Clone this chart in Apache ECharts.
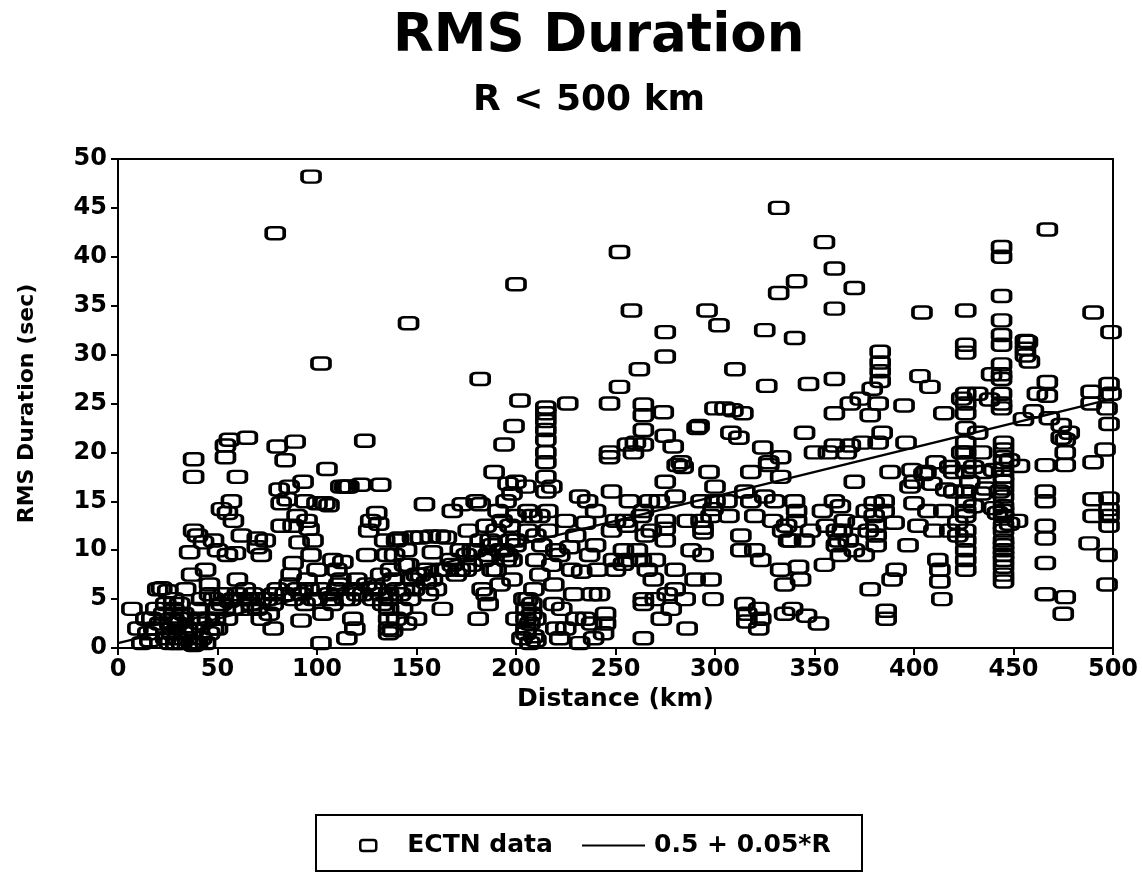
<!DOCTYPE html>
<html>
<head>
<meta charset="utf-8">
<script src="https://cdn.jsdelivr.net/npm/echarts@6/dist/echarts.min.js"></script>
<style>html,body{margin:0;padding:0;background:#fff}#c{width:1142px;height:877px}</style>
</head>
<body>
<div id="c"></div>
<script>
// ---- data: [distance km, RMS duration sec], grouped by distance band ----
const band0to50 = [[7,4.0],[10,2],[12,0.5],[14,3],[15,1.5],[16,0.8],[17,3.0],[18,2],[19,4],[20,6.0],[21,2.5],[22,6.1],[23,3.5],[24,1],[24,4.5],[25,5.8],[26,0.5],[26,2.5],[27,2],[27,1.5],[28,3],[28,4],[28,5],[29,0.5],[30,1],[30,2.5],[31,4.5],[31,3],[32,0.5],[33,3.5],[33,1.5],[34,6],[35,1],[35,2],[36,9.8],[36,3],[37,7.5],[37,0.5],[38,17.5],[38,19.3],[38,12],[38,0.3],[38,1.8],[39,0.6],[40,11.5],[40,0.5],[40,4],[41,3],[42,1],[42,2.5],[42,5],[43,10.8],[44,8],[44,0.5],[45,3],[46,5.5],[46,6.5],[46,1.5],[48,11],[48,2],[48,5],[49,3],[50,4],[50,2],[50,10]];
const band50to100 = [[52,14.2],[52,4.5],[53,5.5],[54,19.5],[54,20.7],[55,13.8],[55,9.5],[55,3],[56,21.3],[56,4.8],[57,15],[58,13],[58,5],[58,4],[59,9.7],[60,17.5],[60,7],[60,5.5],[62,11.5],[62,5],[63,4],[64,6],[65,21.5],[65,5],[66,5],[67,4.5],[68,5.5],[70,11.2],[70,10.3],[70,4],[72,9.5],[72,3],[72,5],[74,11],[75,5],[76,3.5],[78,5.5],[78,2],[78,4.5],[80,20.6],[80,6],[81,16.2],[82,12.5],[82,14.8],[84,19.2],[84,5.5],[85,15.2],[86,16.5],[86,6.5],[87,7.5],[88,12.5],[88,8.7],[88,5],[89,21.1],[90,13.5],[90,6],[91,10.8],[92,2.8],[92,5.5],[93,17],[94,15],[94,4.5],[95,7],[95,13],[96,12.2],[96,6],[97,9.5],[98,11],[98,5],[100,8],[100,14.8],[100,5]];
const band100to150 = [[102,0.5],[102,6],[103,3.5],[104,14.8],[105,18.3],[106,14.6],[106,5.5],[107,5],[108,9],[108,4.5],[110,8],[110,6],[111,6.5],[112,16.5],[112,7],[113,8.8],[114,16.5],[114,5],[115,16.5],[115,1],[116,16.5],[117,5],[118,6],[118,3],[119,2],[120,7],[120,5.5],[122,16.7],[123,5.5],[124,21.2],[125,9.5],[125,6.5],[126,12],[127,13],[128,6],[128,5],[130,13.8],[130,6],[131,12.7],[132,16.7],[132,7.5],[132,5.5],[133,4.5],[134,11],[135,9.5],[136,1.5],[136,2],[136,3],[136,4],[136,5],[136,5.5],[137,8],[138,7],[138,1.8],[139,9.5],[140,11],[140,3],[140,6],[141,11.2],[142,5.5],[143,4],[144,8.5],[144,6],[145,10],[145,2.5],[146,8.5],[146,33.2],[147,5],[148,11.3],[148,7],[149,6],[150,7.5],[150,3]];
const band150to200 = [[152,11.3],[152,7.5],[154,14.7],[155,6.7],[155,8],[156,5.5],[157,11.4],[158,9.8],[158,7],[160,6],[162,11.4],[162,8],[163,4],[165,8],[165,11.3],[167,9],[168,14],[168,8.5],[170,7.5],[172,10],[172,8],[173,14.7],[175,8],[175,9.5],[176,12],[178,8.5],[178,10],[180,15],[180,10],[181,3],[182,14.7],[182,27.5],[182,11],[183,6],[184,9],[185,5.5],[185,12.5],[186,4.5],[186,9.5],[187,11],[188,10.5],[188,8],[189,18],[190,8],[190,12],[191,14],[192,10],[192,6.5],[193,13],[194,20.8],[194,10],[195,9],[195,15],[196,16.8],[196,9.5],[197,11],[197,12.5],[198,7],[198,15.8],[198,9],[199,22.7],[200,13.5],[200,10.5],[200,17],[200,3],[200,11],[200,37.2]];
const band200to250 = [[202,25.3],[203,1],[204,5],[205,1.5],[205,2],[205,3],[205,4],[205,16.5],[206,5],[206,14],[206,12],[207,0.5],[207,2.5],[208,3.5],[208,4.5],[208,13.5],[209,1.2],[209,6],[210,3],[210,0.8],[210,9],[210,11.5],[212,13.5],[212,7.5],[213,10.5],[215,24.6],[215,24],[215,23.2],[215,22.3],[215,21.3],[215,20],[215,19],[215,17.5],[215,16],[216,12],[216,14],[218,8.5],[218,16.5],[219,4.5],[219,6.5],[220,10],[220,2],[222,1],[222,9.5],[223,4],[225,13],[225,2],[226,25],[227,10.3],[228,8],[229,5.5],[230,11.5],[230,3],[232,15.5],[232,0.5],[233,7.8],[235,12.8],[235,3],[236,15],[237,9.5],[238,2.5],[238,5.5],[239,1],[240,10.5],[240,14],[241,8],[242,5.5],[244,1.5],[245,2.5],[245,3.5],[247,25],[247,19.5],[247,20],[248,12],[248,16],[249,9],[250,8],[250,13]];
const band250to300 = [[252,40.5],[252,26.7],[254,8.6],[254,10],[255,13],[256,12.5],[256,9],[256,20.8],[257,15],[258,34.5],[259,20],[260,21],[261,10],[262,28.5],[263,9],[263,13.5],[264,23.8],[264,22.3],[264,24.9],[264,20.8],[264,14],[264,4.5],[264,1],[264,5],[265,11.5],[266,8],[267,15],[268,12],[269,7],[270,5],[270,9],[272,15],[273,3],[274,24.1],[275,32.3],[275,29.8],[275,21.7],[275,17],[275,13],[275,12.2],[275,11],[276,5.5],[278,4],[279,20.6],[280,15.5],[280,8],[280,6],[281,18.7],[283,19],[284,18.5],[285,5],[286,2],[286,13],[288,10],[290,7],[291,22.5],[292,22.7],[293,15],[293,13],[294,12.3],[294,11.8],[294,9.5],[296,34.5],[297,18],[298,13.5],[298,7],[299,5],[299,14.2],[300,24.5],[300,16.5],[300,15]];
const band300to350 = [[302,33],[305,24.5],[306,15],[307,13.5],[308,22],[309,24.3],[310,28.5],[312,21.5],[313,11.5],[313,10],[314,24],[315,16],[315,4.5],[316,3.5],[316,2.7],[318,15],[318,18],[320,13.5],[320,10],[322,2],[322,4],[323,3],[323,9],[324,20.5],[325,15.5],[325,32.5],[326,26.8],[327,19],[327,18.7],[329,13],[330,15],[332,36.3],[332,45],[333,17.5],[333,19.5],[333,8],[334,12],[335,6.5],[335,3.5],[336,12.5],[337,11],[338,11],[339,4],[340,31.7],[340,15],[341,37.5],[341,14],[341,13],[342,8.3],[343,7],[345,22],[345,11],[346,3.3],[347,27],[348,12],[350,20]];
const band350to400 = [[352,2.5],[354,14],[355,41.5],[355,8.5],[356,12.5],[357,20],[360,38.8],[360,34.7],[360,27.5],[360,24],[360,20.7],[360,15],[361,12],[361,10.5],[362,11],[363,9.5],[363,14.5],[364,12],[365,13],[367,11],[366,20],[368,25],[368,20.7],[370,36.8],[370,17],[370,10],[372,12.8],[373,25.5],[374,21],[375,9.5],[376,14],[377,12],[378,23.8],[378,6],[379,26.5],[380,14.8],[380,13.5],[381,12.5],[381,11.5],[381,10.5],[382,25],[382,21],[383,30.3],[383,29.2],[383,28.3],[383,27.3],[384,22],[385,15],[385,14],[386,3],[386,3.8],[388,18],[389,7],[390,12.8],[391,8],[395,24.8],[396,21],[397,10.5],[398,16.5],[399,18.2],[400,17],[400,14.8]];
const band400to450 = [[402,12.5],[403,27.8],[404,34.3],[405,17.8],[406,18],[407,14],[408,26.7],[409,16.8],[410,12],[411,19],[412,9],[413,8],[413,6.8],[414,5],[415,24],[415,14],[416,16.2],[418,12],[418,18.5],[420,18],[420,16],[422,12.8],[422,11.5],[424,20],[424,25.5],[426,34.5],[426,31],[426,30.2],[426,26],[426,25],[426,24],[426,22.5],[426,21],[426,20],[426,19],[426,18],[426,16],[426,15],[426,14],[426,13.5],[426,12],[426,11],[426,10],[426,9],[426,8],[428,17],[430,18.5],[430,14.5],[432,22],[432,26],[434,20],[434,15.8],[435,18],[436,16.3],[438,25.4],[439,28],[440,18.2],[440,14.3],[442,13.8],[443,16],[444,41],[444,40],[444,36],[444,33.5],[444,32],[444,31],[444,29],[444,28],[444,27.5],[444,26],[444,25],[444,24.5],[445,21],[445,20.3],[445,19.5],[445,19],[445,18.3],[445,17.5],[445,17],[445,16.3],[445,15.5],[445,14.5],[445,14],[445,13.5],[445,12.5],[445,12],[445,11],[445,10.5],[445,10],[445,9.5],[445,9],[445,8.3],[445,7.5],[445,6.8],[448,19.2],[448,12.7]];
const band450to500 = [[452,13],[453,18.6],[455,23.4],[456,31.4],[456,30.6],[456,29.9],[457,31.3],[458,29.3],[460,24.2],[462,26],[466,18.7],[466,16],[466,15],[466,12.5],[466,11.2],[466,8.7],[466,5.5],[467,42.8],[467,27.2],[467,25.8],[468,23.5],[474,22.8],[474,21.5],[476,21.3],[476,20],[476,18.7],[476,5.2],[475,3.5],[478,22],[488,10.7],[489,26.2],[489,25],[490,34.3],[490,19],[490,15.2],[490,13.5],[496,20.3],[497,9.5],[497,6.5],[498,22.9],[498,27],[498,15.3],[498,14.2],[498,13.5],[498,12.5],[499,32.3],[499,26],[497,24.5]];
const outliers = [[97,48.2],[79,42.4],[102,29.1]];
// fitted line 0.5 + 0.05*R, endpoints
const fitR = [0, 500];
const fitDur = [0.5, 25.5];
const xTicks = [0,50,100,150,200,250,300,350,400,450,500];
const yTicks = [0,5,10,15,20,25,30,35,40,45,50];

const scatterData = [].concat(band0to50, band50to100, band100to150, band150to200, band200to250,
  band250to300, band300to350, band350to400, band400to450, band450to500, outliers);
const fitData = fitR.map((r, i) => [r, fitDur[i]]);

const FONT = 'DejaVu Sans';
const chart = echarts.init(document.getElementById('c'), null, {renderer: 'canvas'});
chart.setOption({
  backgroundColor: '#fff',
  animation: false,
  title: [
    {text: 'RMS Duration', left: 388, top: 6,
     textStyle: {fontFamily: FONT, fontSize: 53, fontWeight: 'bold', color: '#000'}},
    {text: 'R < 500 km', left: 468, top: 78,
     textStyle: {fontFamily: FONT, fontSize: 36, fontWeight: 'bold', color: '#000'}}
  ],
  grid: {left: 118, right: 29, top: 159, bottom: 229, show: true, borderColor: '#000', borderWidth: 2, backgroundColor: 'transparent'},
  xAxis: {
    type: 'value', min: xTicks[0], max: xTicks[xTicks.length - 1], interval: 50,
    name: 'Distance (km)', nameLocation: 'middle', nameGap: 26,
    nameTextStyle: {fontFamily: FONT, fontSize: 25, fontWeight: 'bold', color: '#000'},
    axisLine: {show: true, lineStyle: {color: '#000', width: 2}},
    axisTick: {show: true, length: 7, lineStyle: {color: '#000', width: 2}},
    axisLabel: {fontFamily: FONT, fontSize: 24, fontWeight: 'bold', color: '#000', margin: 10},
    splitLine: {show: false}
  },
  yAxis: {
    type: 'value', min: yTicks[0], max: yTicks[yTicks.length - 1], interval: 5,
    name: 'RMS Duration (sec)', nameLocation: 'middle', nameGap: 80,
    nameTextStyle: {fontFamily: FONT, fontSize: 22, fontWeight: 'bold', color: '#000'},
    axisLine: {show: true, lineStyle: {color: '#000', width: 2}},
    axisTick: {show: true, length: 7, lineStyle: {color: '#000', width: 2}},
    axisLabel: {fontFamily: FONT, fontSize: 24, fontWeight: 'bold', color: '#000', margin: 11},
    splitLine: {show: false}
  },
  legend: [
    {data: ['ECTN data'], left: 354, top: 828, itemWidth: 16, itemHeight: 11, itemGap: 10,
     icon: 'roundRect',
     itemStyle: {color: '#fff', borderColor: '#000', borderWidth: 2.5},
     textStyle: {fontFamily: FONT, fontSize: 25, fontWeight: 'bold', color: '#000', padding: [0, 0, 0, 26]}},
    {data: ['0.5 + 0.05*R'], left: 577, top: 828, itemWidth: 63, itemHeight: 2, itemGap: 10,
     icon: 'rect',
     itemStyle: {color: '#000'},
     textStyle: {fontFamily: FONT, fontSize: 25, fontWeight: 'bold', color: '#000', padding: [0, 0, 0, 4]}}
  ],
  graphic: [
    {type: 'rect', shape: {x: 316, y: 815, width: 546, height: 56}, style: {fill: 'none', stroke: '#000', lineWidth: 2}, z: 10}
  ],
  series: [
    {name: 'ECTN data', type: 'scatter', data: scatterData,
     symbol: 'roundRect', symbolSize: [18, 12],
     itemStyle: {color: 'rgba(255,255,255,0)', borderColor: '#000', borderWidth: 3, opacity: 1},
     emphasis: {disabled: true}},
    {name: '0.5 + 0.05*R', type: 'line', data: fitData, symbol: 'none', showSymbol: false,
     lineStyle: {color: '#000', width: 2.5}, itemStyle: {color: '#000'}, z: 3}
  ]
});
</script>
</body>
</html>
